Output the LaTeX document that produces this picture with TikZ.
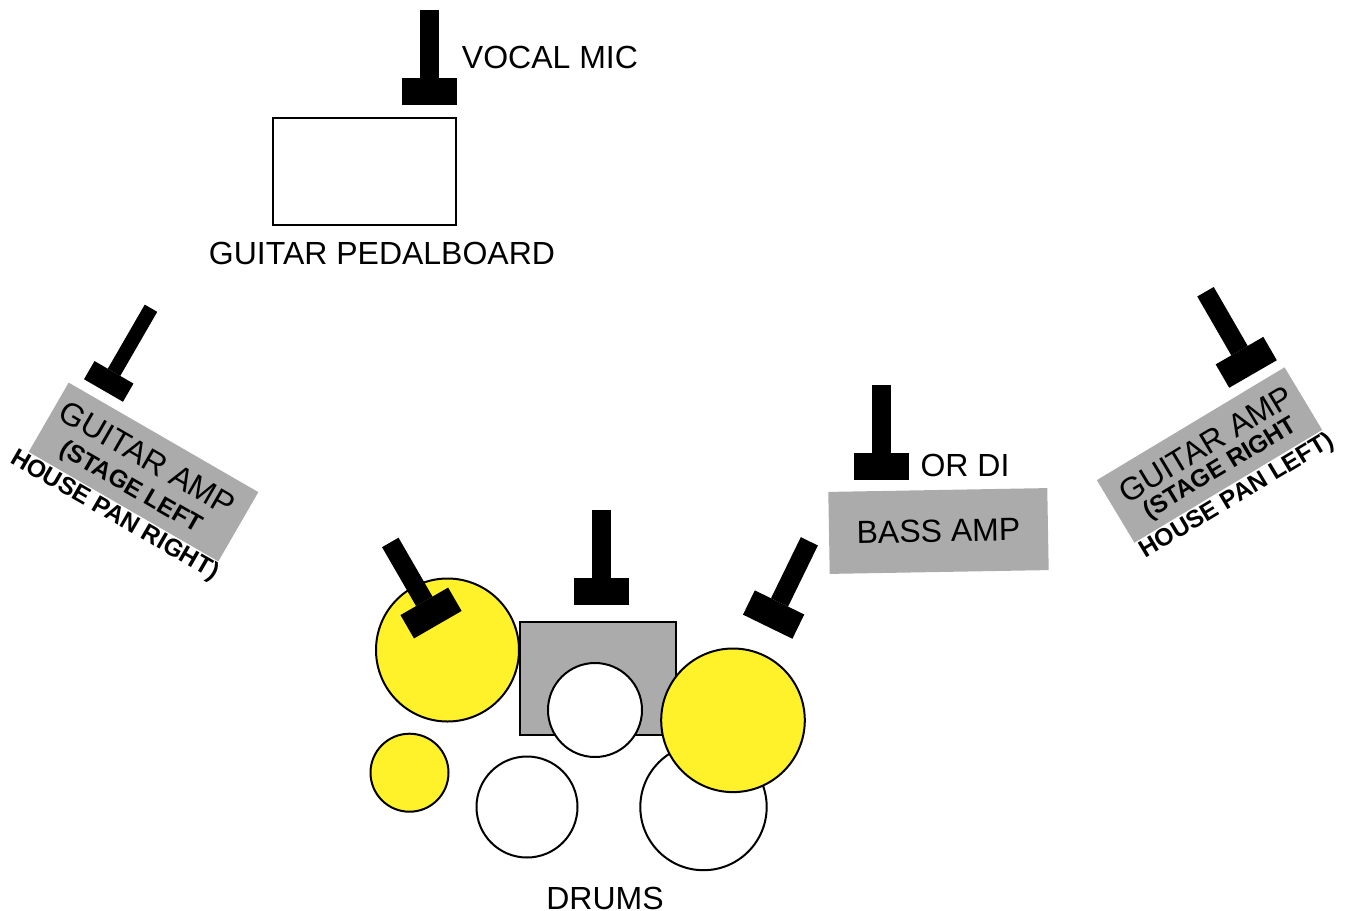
\documentclass[tikz,border=0pt]{standalone}
\usepackage{fontspec}
\setmainfont{Liberation Sans}
\definecolor{ampgrey}{HTML}{ABABAB}
\definecolor{cymbal}{HTML}{FFF22B}
\newcommand{\labelbig}{\fontsize{16}{16}\selectfont}
\newcommand{\labelsmall}{\fontsize{12.3}{14.5}\selectfont\bfseries}
\tikzset{
	lbl/.style = {inner sep = 0, outer sep = 0, font = \labelbig},
	amp/.style = {fill = ampgrey, inner sep = 0, outer sep = 0, minimum width = 109.5, minimum height = 40},
	box/.style = {draw, line width = 1pt, inner sep = 0, outer sep = 0},
	drum/.style = {circle, draw, fill = white, line width = 1pt, inner sep = 0, outer sep = 0},
	cym/.style = {drum, fill = cymbal},
	pics/micstand/.style = {code = {
		\fill[black] (-27.5, 0) rectangle (27.5, -27);
		\fill[black] (-9.5, -27) rectangle (9.5, -95);
	}},
	pics/micsmall/.style = {code = {
		\fill[black] (-22.5, 0) rectangle (22.5, -21);
		\fill[black] (-7.2, -21) rectangle (7.2, -95);
	}}
}
\begin{document}
\begin{tikzpicture}[x = 0.5pt, y = -0.5pt]
	\useasboundingbox (0, 0) rectangle (1346, 911);
	% front of stage
	\pic (vocalmic) at (429.5, 105) {micstand};
	\node[lbl] (vocallabel) at (550, 57) {VOCAL MIC};
	\node[box, fill = white, minimum width = 91.5, minimum height = 53.5] (pedalboard) at (364.5, 171.5) {};
	\node[lbl] (pedallabel) at (382, 253) {GUITAR PEDALBOARD};
	% left amp
	\node[amp, rotate = -30] (leftamp) at (143.5, 472) {};
	\pic[rotate = -30] (leftmic) at (103.5, 390.5) {micsmall};
	\node[lbl, rotate = -30, align = center] (leftlabel) at (131, 487) {GUITAR AMP\\[-1pt]{\labelsmall (STAGE LEFT}\\{\labelsmall HOUSE PAN RIGHT)}};
	% right amp
	\node[amp, rotate = 31, minimum height = 36.5] (rightamp) at (1209.5, 455) {};
	\pic[rotate = 30] (rightmic) at (1253, 374) {micstand};
	\node[lbl, rotate = 31, align = center] (rightlabel) at (1221.5, 470.5) {GUITAR AMP\\[-4pt]{\labelsmall (STAGE RIGHT}\\{\labelsmall HOUSE PAN LEFT)}};
	% bass
	\node[amp, rotate = 1, minimum height = 41] (bassamp) at (938.5, 531) {};
	\node[lbl, rotate = 1] (basslabel) at (938.5, 531) {BASS AMP};
	\pic (bassmic) at (881.5, 480) {micstand};
	\node[lbl] (dilabel) at (965, 465) {OR DI};
	% drums
	\node[box, fill = ampgrey, minimum width = 77.75, minimum height = 56.25] (kick) at (598.2, 678.5) {};
	\node[drum, minimum size = 47] (snare) at (595, 710) {};
	\node[drum, minimum size = 63.2] (floortom) at (703.5, 807) {};
	\node[drum, minimum size = 50.5] (racktom) at (527, 807) {};
	\node[cym, minimum size = 39] (hihat) at (409.5, 772.7) {};
	\node[cym, minimum size = 71.5] (crash) at (447.5, 650) {};
	\node[cym, minimum size = 71.8] (ride) at (733, 720.3) {};
	\pic[rotate = 30] (overheadleft) at (437.8, 624.7) {micstand};
	\pic (kickmic) at (601.5, 604.5) {micstand};
	\pic[rotate = -26] (overheadright) at (767.7, 626.7) {micstand};
	\node[lbl] (drumslabel) at (605, 898) {DRUMS};
\end{tikzpicture}
\end{document}
